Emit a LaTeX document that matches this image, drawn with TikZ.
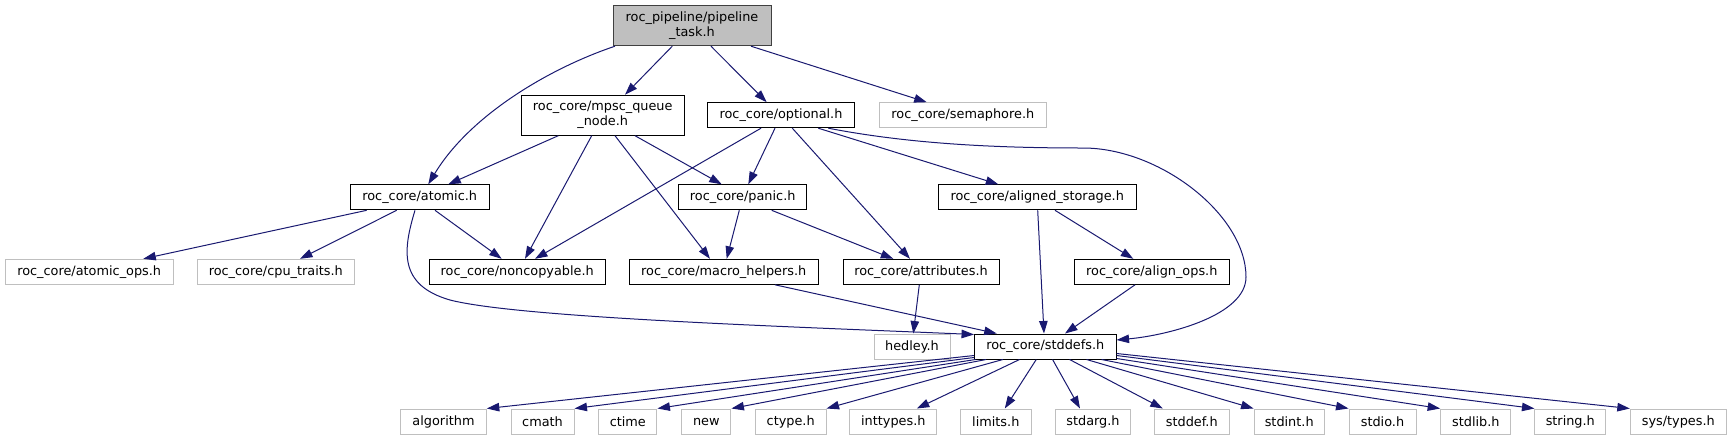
\documentclass[tikz,border=0pt]{standalone}
\usepackage{fontspec}
\setmainfont{DejaVu Sans}
\usetikzlibrary{arrows.meta,calc}
\definecolor{edgeblue}{HTML}{191970}
\definecolor{gboxline}{HTML}{BFBFBF}
\definecolor{rootfill}{HTML}{BFBFBF}
\definecolor{rootline}{HTML}{404040}
\begin{document}
\begin{tikzpicture}[x=1pt,y=-1pt,
  nd/.style={draw=black, line width=1pt, rectangle, inner sep=0pt, minimum height=25pt,
    align=center, font=\fontsize{12.85}{15}\selectfont, fill=white},
  ext/.style={nd, draw=gboxline},
  root/.style={nd, draw=rootline, fill=rootfill, minimum height=40pt},
  two/.style={minimum height=40pt},
  dep/.style={draw=edgeblue, line width=1pt, -{Triangle[length=12.5pt,width=8.5pt]}}]
\useasboundingbox (0,0) rectangle (1732,440);
% row 1
\node[root, minimum width=158pt] (pipe) at (692,25.7) {roc\_pipeline/pipeline\\\_task.h};
% row 2
\node[nd, two, minimum width=162.7pt] (mpsc) at (602.7,115.2) {roc\_core/mpsc\_queue\\\_node.h};
\node[nd, minimum width=146.6pt] (opt) at (781,115.2) {roc\_core/optional.h};
\node[ext, minimum width=167pt] (sema) at (962.8,115.2) {roc\_core/semaphore.h};
% row 3
\node[nd, minimum width=138.7pt] (atomic) at (419.7,197.3) {roc\_core/atomic.h};
\node[nd, minimum width=128pt] (panic) at (742.7,197.3) {roc\_core/panic.h};
\node[nd, minimum width=197.7pt] (aligned) at (1037.2,197.3) {roc\_core/aligned\_storage.h};
% row 4
\node[ext, minimum width=168.3pt] (atomicops) at (89.2,271.8) {roc\_core/atomic\_ops.h};
\node[ext, minimum width=157pt] (cpu) at (275.8,271.8) {roc\_core/cpu\_traits.h};
\node[nd, minimum width=176.3pt] (noncopy) at (517.2,271.8) {roc\_core/noncopyable.h};
\node[nd, minimum width=189.3pt] (macro) at (723.7,271.8) {roc\_core/macro\_helpers.h};
\node[nd, minimum width=156pt] (attr) at (921,271.8) {roc\_core/attributes.h};
\node[nd, minimum width=155pt] (alignops) at (1151.8,271.8) {roc\_core/align\_ops.h};
% row 5
\node[ext, minimum width=76pt] (hedley) at (912,346.5) {hedley.h};
\node[nd, minimum width=141.5pt] (stddefs) at (1045.3,346.5) {roc\_core/stddefs.h};
% row 6
\node[ext, minimum width=85.6pt] (algorithm) at (443.5,421.5) {algorithm};
\node[ext, minimum width=63pt] (cmath) at (542.5,421.5) {cmath};
\node[ext, minimum width=58.3pt] (ctime) at (627.8,421.5) {ctime};
\node[ext, minimum width=49.3pt] (new) at (706.3,421.5) {new};
\node[ext, minimum width=70.7pt] (ctype) at (790.7,421.5) {ctype.h};
\node[ext, minimum width=86.7pt] (inttypes) at (893.3,421.5) {inttypes.h};
\node[ext, minimum width=71pt] (limits) at (995.8,421.5) {limits.h};
\node[ext, minimum width=74.6pt] (stdarg) at (1093,421.5) {stdarg.h};
\node[ext, minimum width=75pt] (stddef) at (1191.8,421.5) {stddef.h};
\node[ext, minimum width=70.3pt] (stdint) at (1289.2,421.5) {stdint.h};
\node[ext, minimum width=67pt] (stdio) at (1382.5,421.5) {stdio.h};
\node[ext, minimum width=70.3pt] (stdlib) at (1475.8,421.5) {stdlib.h};
\node[ext, minimum width=70.7pt] (string) at (1570.3,421.5) {string.h};
\node[ext, minimum width=96pt] (systypes) at (1678.3,421.5) {sys/types.h};
% edges from pipeline_task.h
\draw[dep] ([xshift=-77pt]pipe.south) .. controls (550,68) and (470,115) .. ([xshift=8.6pt]atomic.north);
\draw[dep] ([xshift=-19.7pt]pipe.south) -- ([xshift=22.3pt]mpsc.north);
\draw[dep] ([xshift=19pt]pipe.south) -- ([xshift=-14.3pt]opt.north);
\draw[dep] ([xshift=59pt]pipe.south) -- ([xshift=-36.1pt]sema.north);
% edges from mpsc_queue_node.h
\draw[dep] ([xshift=-44.4pt]mpsc.south) -- ([xshift=28.6pt]atomic.north);
\draw[dep] ([xshift=-11pt]mpsc.south) -- ([xshift=7.8pt]noncopy.north);
\draw[dep] ([xshift=12.3pt]mpsc.south) -- ([xshift=-13.7pt]macro.north);
\draw[dep] ([xshift=32.3pt]mpsc.south) -- ([xshift=-21pt]panic.north);
% edges from optional.h
\draw[dep] ([xshift=-20pt]opt.south) -- ([xshift=17.8pt]noncopy.north);
\draw[dep] ([xshift=-6pt]opt.south) -- ([xshift=5.6pt]panic.north);
\draw[dep] ([xshift=11.3pt]opt.south) -- ([xshift=-11pt]attr.north);
\draw[dep] ([xshift=37.3pt]opt.south) -- ([xshift=-38.9pt]aligned.north);
\draw[dep] ([xshift=47.3pt]opt.south) .. controls (900,142) and (980,148) .. (1083,148)
  .. controls (1160,148) and (1246,215) .. (1246,277)
  .. controls (1246,315) and (1170,335) .. ([yshift=6.5pt]stddefs.east);
% edges from atomic.h
\draw[dep] ([xshift=-53pt]atomic.south) -- ([xshift=54.1pt]atomicops.north);
\draw[dep] ([xshift=-23pt]atomic.south) -- ([xshift=24.2pt]cpu.north);
\draw[dep] ([xshift=15.3pt]atomic.south) -- ([xshift=-15.5pt]noncopy.north);
\draw[dep] ([xshift=-4.7pt]atomic.south) .. controls (403,250) and (398,285) .. (450,300)
  .. controls (520,318) and (800,327) .. ([yshift=-1pt]stddefs.north west);
% edges from panic.h
\draw[dep] ([xshift=-3.4pt]panic.south) -- ([xshift=3pt]macro.north);
\draw[dep] ([xshift=29pt]panic.south) -- ([xshift=-27.7pt]attr.north);
% edges from aligned_storage.h
\draw[dep] ([xshift=0.5pt]aligned.south) -- ([xshift=-1.3pt]stddefs.north);
\draw[dep] ([xshift=17.8pt]aligned.south) -- ([xshift=-18.5pt]alignops.north);
% other row-4 edges
\draw[dep] ([xshift=-16.8pt]alignops.south) -- ([xshift=19.7pt]stddefs.north);
\draw[dep] ([xshift=51.3pt]macro.south) -- ([xshift=-48.6pt]stddefs.north);
\draw[dep] ([xshift=-1.7pt]attr.south) -- ([xshift=1.3pt]hedley.north);
% edges from stddefs.h
\draw[dep] ([yshift=4pt]stddefs.south west) -- (algorithm.north east);
\draw[dep] ([yshift=2pt]stddefs.south west) -- (cmath.north east);
\draw[dep] ([xshift=1.5pt]stddefs.south west) -- (ctime.north east);
\draw[dep] ([xshift=12pt]stddefs.south west) -- (new.north east);
\draw[dep] ([xshift=28.8pt]stddefs.south west) -- (ctype.north east);
\draw[dep] ([xshift=45.5pt]stddefs.south west) -- ([xshift=23.5pt]inttypes.north);
\draw[dep] ([xshift=62.2pt]stddefs.south west) -- ([xshift=9pt]limits.north);
\draw[dep] ([xshift=78.5pt]stddefs.south west) -- ([xshift=-13pt]stdarg.north);
\draw[dep] ([xshift=95.5pt]stddefs.south west) -- ([xshift=-29pt]stddef.north);
\draw[dep] ([xshift=112.5pt]stddefs.south west) -- (stdint.north west);
\draw[dep] ([xshift=-15pt]stddefs.south east) -- (stdio.north west);
\draw[dep] ([yshift=1pt]stddefs.south east) -- (stdlib.north west);
\draw[dep] ([yshift=4pt]stddefs.south east) -- (string.north west);
\draw[dep] ([yshift=6pt]stddefs.south east) -- (systypes.north west);
\end{tikzpicture}
\end{document}
